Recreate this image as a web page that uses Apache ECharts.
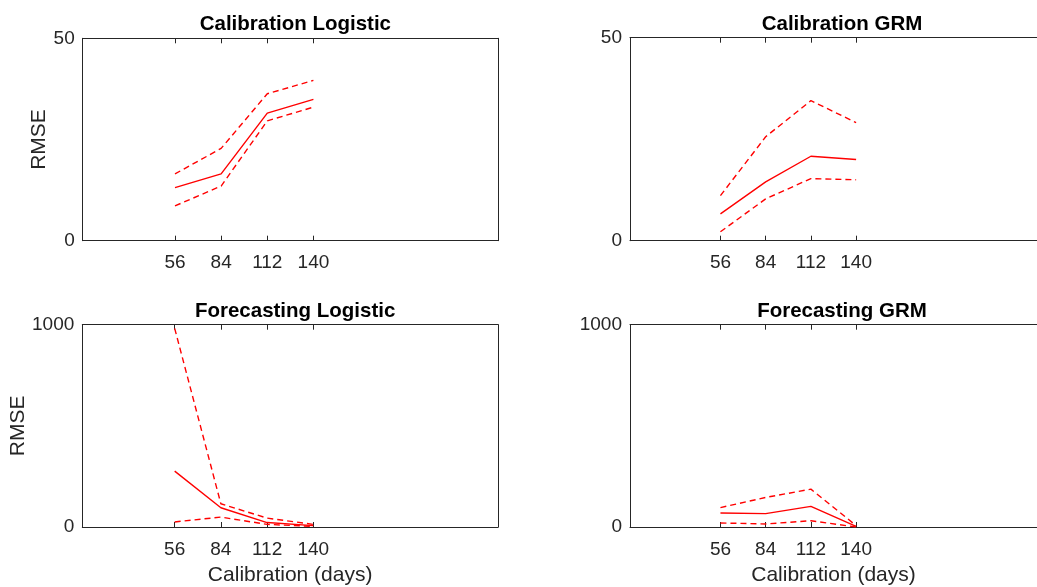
<!DOCTYPE html>
<html>
<head>
<meta charset="utf-8">
<script src="https://cdn.jsdelivr.net/npm/echarts@6/dist/echarts.min.js"></script>
<style>html,body{margin:0;padding:0;background:#fff}#c{width:1037px;height:587px}</style>
</head>
<body>
<div id="c"></div>
<script>
// ---- data ----
const days = [56, 84, 112, 140];
const xTickLabels = [56, 84, 112, 140];
const titles = ['Calibration Logistic', 'Calibration GRM', 'Forecasting Logistic', 'Forecasting GRM'];
const yMaxes = [50, 50, 1000, 1000];

const calLogMean  = [13.1, 16.5, 31.5, 34.9];
const calLogUpper = [16.5, 22.8, 36.3, 39.6];
const calLogLower = [8.6, 13.5, 29.6, 33.0];

const calGrmMean  = [6.6, 14.5, 20.8, 20.0];
const calGrmUpper = [11.1, 25.6, 34.5, 29.1];
const calGrmLower = [2.2, 10.3, 15.3, 15.0];

const fcLogMean  = [276, 95, 22, 7];
const fcLogUpper = [982, 115, 44, 13];
const fcLogLower = [25, 49, 13, 3];

const fcGrmMean  = [69, 66, 102, 3];
const fcGrmUpper = [96, 146, 187, 7];
const fcGrmLower = [20, 15, 31, 0];

const panels = [
  [calLogMean, calLogUpper, calLogLower],
  [calGrmMean, calGrmUpper, calGrmLower],
  [fcLogMean, fcLogUpper, fcLogLower],
  [fcGrmMean, fcGrmUpper, fcGrmLower]
];

// ---- layout ----
const FONT = '"Liberation Sans", Arial, Helvetica, sans-serif';
const AX = '#262626';
const grids = [
  {left: 82.7, top: 38.3, width: 415.3, height: 202.4},
  {left: 630, top: 37.7, width: 414, height: 203},
  {left: 82.3, top: 324.7, width: 415.7, height: 203},
  {left: 630, top: 324.7, width: 414, height: 203}
];

const option = {
  animation: false,
  backgroundColor: '#fff',
  title: [], grid: [], xAxis: [], yAxis: [], series: []
};

grids.forEach((g, i) => {
  option.grid.push(Object.assign({containLabel: false}, g));
  option.title.push({
    text: titles[i],
    left: g.left + g.width / 2,
    top: i < 2 ? 9 : 296,
    textAlign: 'center',
    textStyle: {fontFamily: FONT, fontSize: 20.5, fontWeight: 'bold', color: '#000'}
  });
  const bottom = i >= 2;
  option.xAxis.push({
    type: 'value', gridIndex: i, position: 'bottom', min: 0, max: 252,
    name: bottom ? 'Calibration (days)' : '', nameLocation: 'middle', nameGap: 38,
    nameTextStyle: {fontFamily: FONT, fontSize: 21, color: AX},
    axisLine: {show: true, onZero: false, lineStyle: {color: AX, width: 1}},
    axisTick: {show: true, inside: true, length: 5, customValues: xTickLabels, lineStyle: {color: AX}},
    axisLabel: {customValues: xTickLabels, fontFamily: FONT, fontSize: 19, color: AX, margin: 13},
    splitLine: {show: false}
  });
  option.xAxis.push({
    type: 'value', gridIndex: i, position: 'top', min: 0, max: 252,
    axisLine: {show: true, onZero: false, lineStyle: {color: AX, width: 1}},
    axisTick: {show: true, inside: true, length: 5, customValues: xTickLabels, lineStyle: {color: AX}},
    axisLabel: {show: false},
    splitLine: {show: false}
  });
  const left = (i % 2 === 0);
  option.yAxis.push({
    type: 'value', gridIndex: i, position: 'left', min: 0, max: yMaxes[i], interval: yMaxes[i],
    name: left ? 'RMSE' : '', nameLocation: 'middle', nameGap: i === 0 ? 33 : 54,
    nameMoveOverlap: false,
    nameTextStyle: {fontFamily: FONT, fontSize: 21, color: AX},
    axisLine: {show: true, onZero: false, lineStyle: {color: AX, width: 1}},
    axisTick: {show: true, inside: true, length: 5, lineStyle: {color: AX}},
    axisLabel: {fontFamily: FONT, fontSize: 19, color: AX, margin: 8, formatter: v => String(v)},
    splitLine: {show: false}
  });
  option.yAxis.push({
    type: 'value', gridIndex: i, position: 'right', min: 0, max: yMaxes[i], interval: yMaxes[i],
    axisLine: {show: true, onZero: false, lineStyle: {color: AX, width: 1}},
    axisTick: {show: false},
    axisLabel: {show: false},
    splitLine: {show: false}
  });
  const [mean, upper, lower] = panels[i];
  const mk = (arr, dashed) => ({
    type: 'line', xAxisIndex: 2 * i, yAxisIndex: 2 * i,
    data: days.map((d, k) => [d, arr[k]]),
    showSymbol: false, symbol: 'none', silent: true,
    lineStyle: {color: '#ff0000', width: 1.4, type: dashed ? [6, 4] : 'solid'}
  });
  option.series.push(mk(mean, false), mk(upper, true), mk(lower, true));
});

const chart = echarts.init(document.getElementById('c'), null, {renderer: 'canvas'});
chart.setOption(option);
</script>
</body>
</html>
